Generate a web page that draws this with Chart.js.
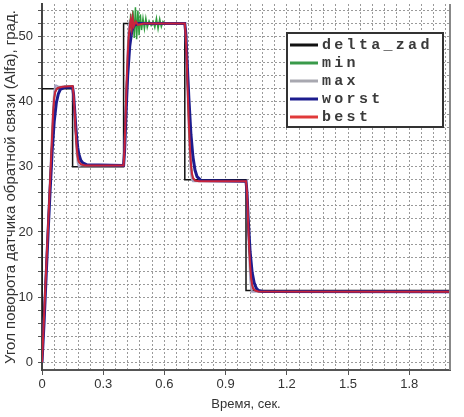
<!DOCTYPE html>
<html>
<head>
<meta charset="utf-8">
<script src="https://cdn.jsdelivr.net/npm/chart.js@4.4.1/dist/chart.umd.min.js"></script>
<style>
  body { margin: 0; background: #fff; }
  #wrap { width: 464px; height: 417px; }
</style>
</head>
<body>
<div id="wrap"><canvas id="chart" width="464" height="417"></canvas></div>
<script>
// time, s / angle, deg
const seriesNames = ['delta_zad', 'min', 'max', 'worst', 'best'];

const deltaZad = [[0,0],[0,42],[0.15,42],[0.15,30],[0.4,30],[0.4,52],[0.7,52],[0.7,28],[1.0,28],[1.0,11],[2.0,11]];

const minPts = [[0,0],[0.01,7],[0.02,14],[0.03,21],[0.04,28],[0.05,35],[0.055,38.5],[0.06,40.5],[0.065,41.5],[0.075,42.1],[0.1,42.3],
  [0.15,42.4],[0.155,41],[0.16,38.5],[0.165,35.5],[0.17,33],[0.175,31.5],[0.18,30.8],[0.19,30.4],[0.21,30.2],
  [0.4,30.2],[0.405,33],[0.41,38],[0.415,43],[0.42,47],[0.425,50],[0.43,51],[0.435,53.5],[0.44,50.5],[0.446,54],
  [0.452,49.8],[0.458,54.5],[0.464,49.6],[0.47,54],[0.476,50.2],[0.482,53.4],[0.488,51],
  [0.495,52.8],[0.502,51.2],[0.509,52.8],[0.516,51.4],[0.525,52.4],[0.535,51.7],[0.545,52.3],
  [0.553,51.4],[0.561,52.8],[0.569,51.2],[0.577,52.7],[0.585,51.5],[0.593,52.3],[0.6,52],
  [0.7,52],[0.705,50],[0.71,46],[0.715,41],[0.72,36.5],[0.725,33],[0.73,30.5],[0.735,29],[0.74,28.3],[0.75,27.9],[0.77,27.8],
  [1.0,27.8],[1.005,26],[1.01,22],[1.015,18],[1.02,15],[1.025,13],[1.03,11.9],[1.035,11.3],[1.045,11],[1.06,10.85],[2.0,10.8]];

const maxPts = [[0,0],[0.01,7.3],[0.02,14.6],[0.03,21.9],[0.04,29],[0.05,36],[0.055,39.5],[0.06,41.6],[0.065,42.5],[0.07,42.5],[0.08,42.3],
  [0.15,42.3],[0.155,40.5],[0.16,37.5],[0.165,34.5],[0.17,32],[0.175,30.6],[0.18,30.1],[0.19,30.2],
  [0.4,30.2],[0.405,33.5],[0.41,38.5],[0.415,43.5],[0.42,48],[0.425,51.2],[0.43,52.4],[0.44,52.2],[0.45,51.9],[0.46,52],
  [0.7,52],[0.705,49.5],[0.71,45],[0.715,40],[0.72,35.5],[0.725,31.5],[0.73,29],[0.735,28],[0.74,27.8],
  [1.0,27.8],[1.005,25.5],[1.01,21],[1.015,16.5],[1.02,13],[1.025,11.3],[1.03,10.8],[1.04,10.8],[2.0,10.8]];

const worstPts = [[0,0],[0.01,6],[0.02,13],[0.03,20],[0.04,26.5],[0.05,32.5],[0.06,37],[0.07,39.8],[0.08,41.2],[0.09,41.9],[0.11,42.2],
  [0.15,42.2],[0.155,41],[0.16,38.8],[0.165,36.5],[0.17,34.5],[0.175,33],[0.18,32],[0.19,31],[0.2,30.6],[0.22,30.3],
  [0.4,30.2],[0.405,32.5],[0.41,36.5],[0.415,40.5],[0.42,44],[0.43,48.5],[0.44,50.8],[0.45,51.7],[0.47,52],
  [0.7,52],[0.705,50.5],[0.71,47],[0.72,40.5],[0.73,35],[0.74,31.5],[0.75,29.5],[0.76,28.5],[0.78,27.9],
  [1.0,27.8],[1.005,26],[1.01,22.5],[1.02,17],[1.03,13.8],[1.04,12.2],[1.05,11.4],[1.06,11],[1.08,10.85],[2.0,10.8]];

const bestPts = [[0,0],[0.01,7],[0.02,14],[0.03,21],[0.04,28],[0.05,35],[0.055,38.5],[0.06,40.5],[0.065,41.5],[0.075,42.1],[0.1,42.3],
  [0.15,42.4],[0.155,41],[0.16,38.5],[0.165,35.5],[0.17,33],[0.175,31.5],[0.18,30.8],[0.19,30.4],[0.21,30.2],
  [0.4,30.2],[0.405,33],[0.41,38],[0.415,43],[0.42,47],[0.425,50],[0.43,51.5],[0.435,52.6],[0.44,51.3],[0.445,52.8],
  [0.45,51.6],[0.46,52.3],[0.47,51.8],[0.5,52],
  [0.7,52],[0.705,50],[0.71,46],[0.715,41],[0.72,36.5],[0.725,33],[0.73,30.5],[0.735,29],[0.74,28.3],[0.75,27.9],[0.77,27.8],
  [1.0,27.8],[1.005,26],[1.01,22],[1.015,18],[1.02,15],[1.025,13],[1.03,11.9],[1.035,11.3],[1.045,11],[1.06,10.85],[2.0,10.8]];

const xMajor = [0, 0.3, 0.6, 0.9, 1.2, 1.5, 1.8];
const yMajor = [0, 10, 20, 30, 40, 50];

const colors = ['#111111', '#2e9c3c', '#a9a2c2', '#1c1c8e', '#c8243c'];
const legendColors = ['#111111', '#3a9a4a', '#a8a8b0', '#1c1c8e', '#e03a3a'];
const widths = [1.5, 1.5, 2, 3, 2];

const toXY = pts => pts.map(p => ({ x: p[0], y: p[1] }));
const allPts = [deltaZad, minPts, maxPts, worstPts, bestPts];
const drawOrder = [5, 3, 4, 2, 1];

const legendBox = {
  id: 'legendBox',
  afterDatasetsDraw(chart) {
    const { ctx, chartArea } = chart;
    const left = chartArea.right - 163;
    const top = chartArea.top + 29;
    const w = 156, h = 94;
    ctx.save();
    ctx.fillStyle = '#fff';
    ctx.fillRect(left, top, w, h);
    ctx.strokeStyle = '#333';
    ctx.lineWidth = 2;
    ctx.strokeRect(left, top, w, h);
    ctx.font = 'bold 15px "Liberation Mono", monospace';
    ctx.letterSpacing = '3.3px';
    ctx.textBaseline = 'middle';
    chart.data.datasets.forEach((ds, i) => {
      const y = top + 12 + i * 18;
      ctx.strokeStyle = legendColors[i];
      ctx.lineWidth = 3;
      ctx.beginPath();
      ctx.moveTo(left + 3, y);
      ctx.lineTo(left + 31, y);
      ctx.stroke();
      ctx.fillStyle = '#3a3a3a';
      ctx.fillText(ds.label, left + 35, y);
    });
    // right frame line
    ctx.strokeStyle = '#888';
    ctx.lineWidth = 2;
    ctx.beginPath();
    ctx.moveTo(chartArea.right, chartArea.top);
    ctx.lineTo(chartArea.right, chartArea.bottom);
    ctx.stroke();
    ctx.restore();
  }
};

new Chart(document.getElementById('chart'), {
  type: 'line',
  data: {
    datasets: seriesNames.map((name, i) => ({
      label: name,
      data: toXY(allPts[i]),
      borderColor: colors[i],
      borderWidth: widths[i],
      pointRadius: 0,
      tension: 0,
      fill: false,
      order: drawOrder[i]
    }))
  },
  options: {
    responsive: false,
    animation: false,
    layout: { padding: { left: 0, right: 14, top: 4, bottom: 4 } },
    plugins: { legend: { display: false }, tooltip: { enabled: false } },
    scales: {
      x: {
        type: 'linear',
        min: 0,
        max: 2.0,
        afterFit: s => { s.height = 43; s.paddingLeft = 0; s.paddingRight = 0; },
        border: { color: '#555', width: 2, dash: [2, 2] },
        grid: {
          color: '#9a9a9a',
          lineWidth: 1,
          tickLength: 5,
          tickColor: c => xMajor.includes(Math.round(c.tick.value * 100) / 100) ? '#555' : 'transparent'
        },
        ticks: {
          stepSize: 0.06,
          includeBounds: false,
          autoSkip: false,
          maxRotation: 0,
          padding: 2,
          color: '#333',
          font: { family: '"Liberation Sans", Arial, sans-serif', size: 13 },
          callback: v => {
            const r = Math.round(v * 100) / 100;
            return xMajor.includes(r) ? String(r) : '';
          }
        },
        title: {
          display: true,
          text: 'Время, сек.',
          color: '#333',
          padding: { top: 0, bottom: 1 },
          font: { family: '"Liberation Sans", Arial, sans-serif', size: 13 }
        }
      },
      y: {
        min: -1.2,
        max: 55,
        afterFit: s => { s.width = 42; s.paddingTop = 0; s.paddingBottom = 0; },
        border: { color: '#444', width: 2, dash: [2, 2] },
        grid: { color: '#9a9a9a', lineWidth: 1, tickLength: 4, tickColor: '#555' },
        ticks: {
          stepSize: 2,
          includeBounds: false,
          autoSkip: false,
          padding: 5,
          color: '#333',
          font: { family: '"Liberation Sans", Arial, sans-serif', size: 13 },
          callback: v => yMajor.includes(Math.round(v)) && Math.abs(v - Math.round(v)) < 1e-6 ? String(Math.round(v)) : ''
        },
        title: {
          display: true,
          text: 'Угол поворота датчика обратной связи (Alfa), град.',
          color: '#333',
          padding: { top: 2, bottom: 0 },
          font: { family: '"Liberation Sans", Arial, sans-serif', size: 15 }
        }
      }
    }
  },
  plugins: [legendBox]
});
</script>
</body>
</html>
